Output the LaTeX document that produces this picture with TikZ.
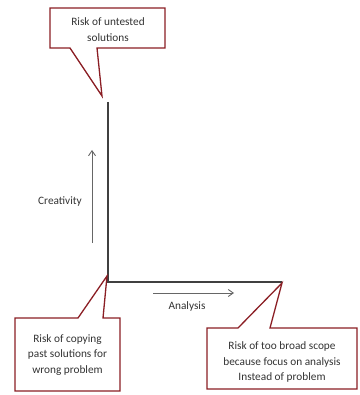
\documentclass[tikz,border=0pt]{standalone}
\usepackage{fontspec}
\setmainfont{Carlito}
\usetikzlibrary{arrows.meta}
\definecolor{callred}{HTML}{8B1E24}
\definecolor{axisgray}{HTML}{404040}
\definecolor{txtgray}{HTML}{333333}
\tikzset{
  callout/.style={draw=callred, line width=1.3pt, fill=white, line join=miter},
  axisline/.style={draw=axisgray, line width=1.2pt},
  dirarrow/.style={draw=axisgray!80, line width=0.9pt, -{Straight Barb[length=5pt,width=7pt]}},
  calltext/.style={align=center, text=txtgray, font=\fontsize{11.3}{15.3}\selectfont, inner sep=0pt},
  labeltext/.style={text=txtgray, font=\fontsize{11.3}{14}\selectfont, inner sep=0pt}
}
\begin{document}
\begin{tikzpicture}[x=1pt,y=-1pt]
\useasboundingbox (0,0) rectangle (359,395);
% axes
\coordinate (top) at (108,102);
\coordinate (origin) at (108,282);
\coordinate (right) at (282,282);
\draw[axisline] (top) -- (origin) -- (right);
% direction arrows
\coordinate (c0) at (92,243);
\coordinate (c1) at (92,150);
\draw[dirarrow] (c0) -- (c1);
\coordinate (a0) at (153,293);
\coordinate (a1) at (234,293);
\draw[dirarrow] (a0) -- (a1);
\node[labeltext] (creat) at (60,202) {Creativity};
\node[labeltext] (anal) at (187,306) {Analysis};
% callouts
\draw[callout] (50,8) -- (165,8) -- (165,48) -- (97,48) -- (102,96) -- (70,48) -- (50,48) -- cycle;
\node[calltext] (untested) at (108,29.5) {Risk of untested\\solutions};
\draw[callout] (15,318) -- (78,318) -- (107,276) -- (103,318) -- (120,318) -- (120,391) -- (15,391) -- cycle;
\node[calltext] (copying) at (67.5,355) {Risk of copying\\past solutions for\\wrong problem};
\draw[callout] (207,328) -- (238,328) -- (282,283) -- (270,328) -- (357,328) -- (357,389) -- (207,389) -- cycle;
\node[calltext] (broad) at (282,362) {Risk of too broad scope\\because focus on analysis\\Instead of problem};
\end{tikzpicture}
\end{document}
